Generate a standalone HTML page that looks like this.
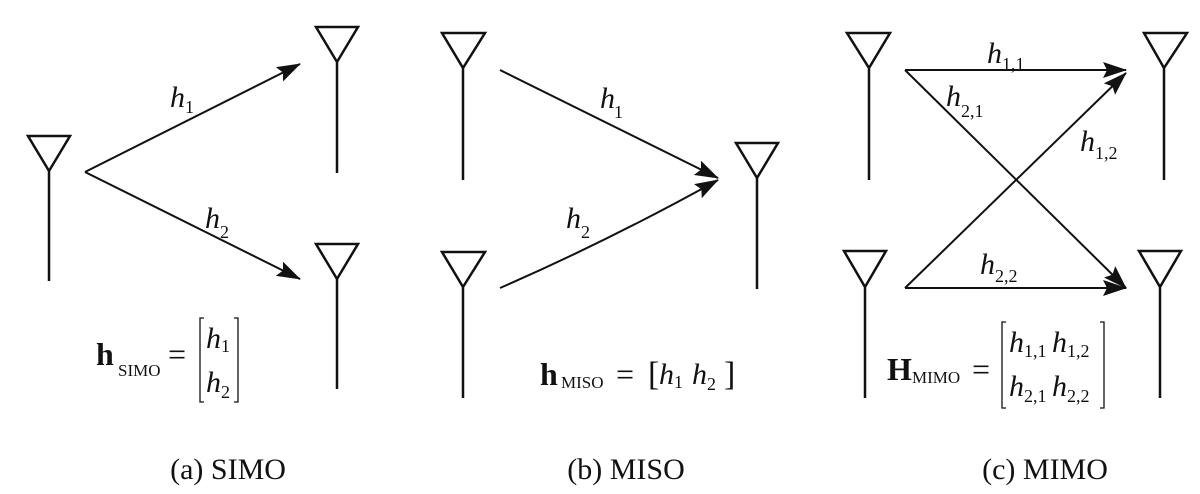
<!DOCTYPE html>
<html><head><meta charset="utf-8"><style>
html,body{margin:0;padding:0;background:#fff;}
svg{display:block;}
text{font-family:"Liberation Serif",serif;fill:#111;}
.it{font-style:italic;}
</style></head><body>
<svg width="1200" height="494" viewBox="0 0 1200 494" xmlns="http://www.w3.org/2000/svg">
<defs>
<marker id="ab" viewBox="0 0 24 16" markerWidth="24" markerHeight="16" refX="23" refY="8" orient="auto" markerUnits="userSpaceOnUse">
<path d="M0,0 L24,8 L0,16 L4,8 Z" fill="#111"/>
</marker>
</defs>
<g stroke="#111" stroke-width="2.5" fill="none">
<path d="M28,136 L70,136 L49,171 Z M49,171 L49,281"/>
<path d="M316,27 L358,27 L337,62 Z M337,62 L337,173"/>
<path d="M316,244 L358,244 L337,279 Z M337,279 L337,389"/>
<path d="M442,33 L485,33 L463,68 Z M463,68 L463,180"/>
<path d="M442,252 L485,252 L463,287 Z M463,287 L463,398"/>
<path d="M736,143 L778,143 L757,178 Z M757,178 L757,289"/>
<path d="M847,33 L890,33 L869,68 Z M869,68 L869,180"/>
<path d="M1144,33 L1187,33 L1164,68 Z M1164,68 L1164,180"/>
<path d="M844,251 L886,251 L865,287 Z M865,287 L865,398"/>
<path d="M1139,251 L1181,251 L1160,287 Z M1160,287 L1160,398"/>
</g>
<g stroke="#111" stroke-width="2" fill="none">
<line x1="85" y1="172" x2="300" y2="64" marker-end="url(#ab)"/>
<line x1="85" y1="172" x2="300" y2="279" marker-end="url(#ab)"/>
<line x1="500" y1="70" x2="718" y2="178" marker-end="url(#ab)"/>
<path d="M500,288 Q610,240 718,180" marker-end="url(#ab)"/>
<line x1="905" y1="70" x2="1126" y2="70" marker-end="url(#ab)"/>
<line x1="905" y1="70" x2="1126" y2="288" marker-end="url(#ab)"/>
<line x1="905" y1="288" x2="1126" y2="288" marker-end="url(#ab)"/>
<line x1="905" y1="288" x2="1126" y2="73" marker-end="url(#ab)"/>
</g>
<text x="170" y="107" font-size="30" class="it">h</text><text x="185" y="113" font-size="18">1</text>
<text x="205" y="228" font-size="30" class="it">h</text><text x="220" y="238" font-size="18">2</text>
<text x="96" y="365" font-size="32" font-weight="bold">h</text><text x="118" y="376" font-size="17">SIMO</text>
<text x="168" y="365" font-size="32">=</text>
<path d="M204,318 L200,318 L200,402 L204,402 M234,318 L238,318 L238,402 L234,402" stroke="#111" stroke-width="1.3" fill="none"/>
<text x="206" y="348" font-size="30" class="it">h</text><text x="221" y="352" font-size="18">1</text>
<text x="206" y="392" font-size="30" class="it">h</text><text x="221" y="398" font-size="18">2</text>
<text x="540" y="385" font-size="32" font-weight="bold">h</text><text x="561" y="388" font-size="17">MISO</text>
<text x="616" y="385" font-size="32">=</text>
<text x="648" y="385" font-size="34">[</text>
<text x="659" y="384" font-size="30" class="it">h</text><text x="674" y="388" font-size="18">1</text>
<text x="692" y="384" font-size="30" class="it">h</text><text x="707" y="390" font-size="18">2</text>
<text x="724" y="385" font-size="34">]</text>
<text x="987" y="63" font-size="30" class="it">h</text><text x="1002" y="70" font-size="18">1,1</text>
<text x="946" y="106" font-size="30" class="it">h</text><text x="961" y="117" font-size="18">2,1</text>
<text x="1080" y="151" font-size="30" class="it">h</text><text x="1095" y="159" font-size="18">1,2</text>
<text x="980" y="274" font-size="30" class="it">h</text><text x="995" y="282" font-size="18">2,2</text>
<text x="887" y="380" font-size="32" font-weight="bold">H</text><text x="912" y="383" font-size="17">MIMO</text>
<text x="972" y="380" font-size="32">=</text>
<path d="M1006,322 L1002,322 L1002,408 L1006,408 M1100,322 L1104,322 L1104,408 L1100,408" stroke="#111" stroke-width="1.3" fill="none"/>
<text x="1009" y="352" font-size="30" class="it">h</text><text x="1024" y="357" font-size="18">1,1</text>
<text x="1052" y="352" font-size="30" class="it">h</text><text x="1067" y="357" font-size="18">1,2</text>
<text x="1009" y="396" font-size="30" class="it">h</text><text x="1024" y="402" font-size="18">2,1</text>
<text x="1052" y="396" font-size="30" class="it">h</text><text x="1067" y="402" font-size="18">2,2</text>
<text x="228" y="479" font-size="30" text-anchor="middle">(a) SIMO</text>
<text x="626" y="479" font-size="30" text-anchor="middle">(b) MISO</text>
<text x="1045" y="479" font-size="30" text-anchor="middle">(c) MIMO</text>
<text x="600" y="108" font-size="30" class="it">h</text><text x="614" y="118" font-size="18">1</text>
<text x="566" y="228" font-size="30" class="it">h</text><text x="581" y="238" font-size="18">2</text>
</svg>
</body></html>
